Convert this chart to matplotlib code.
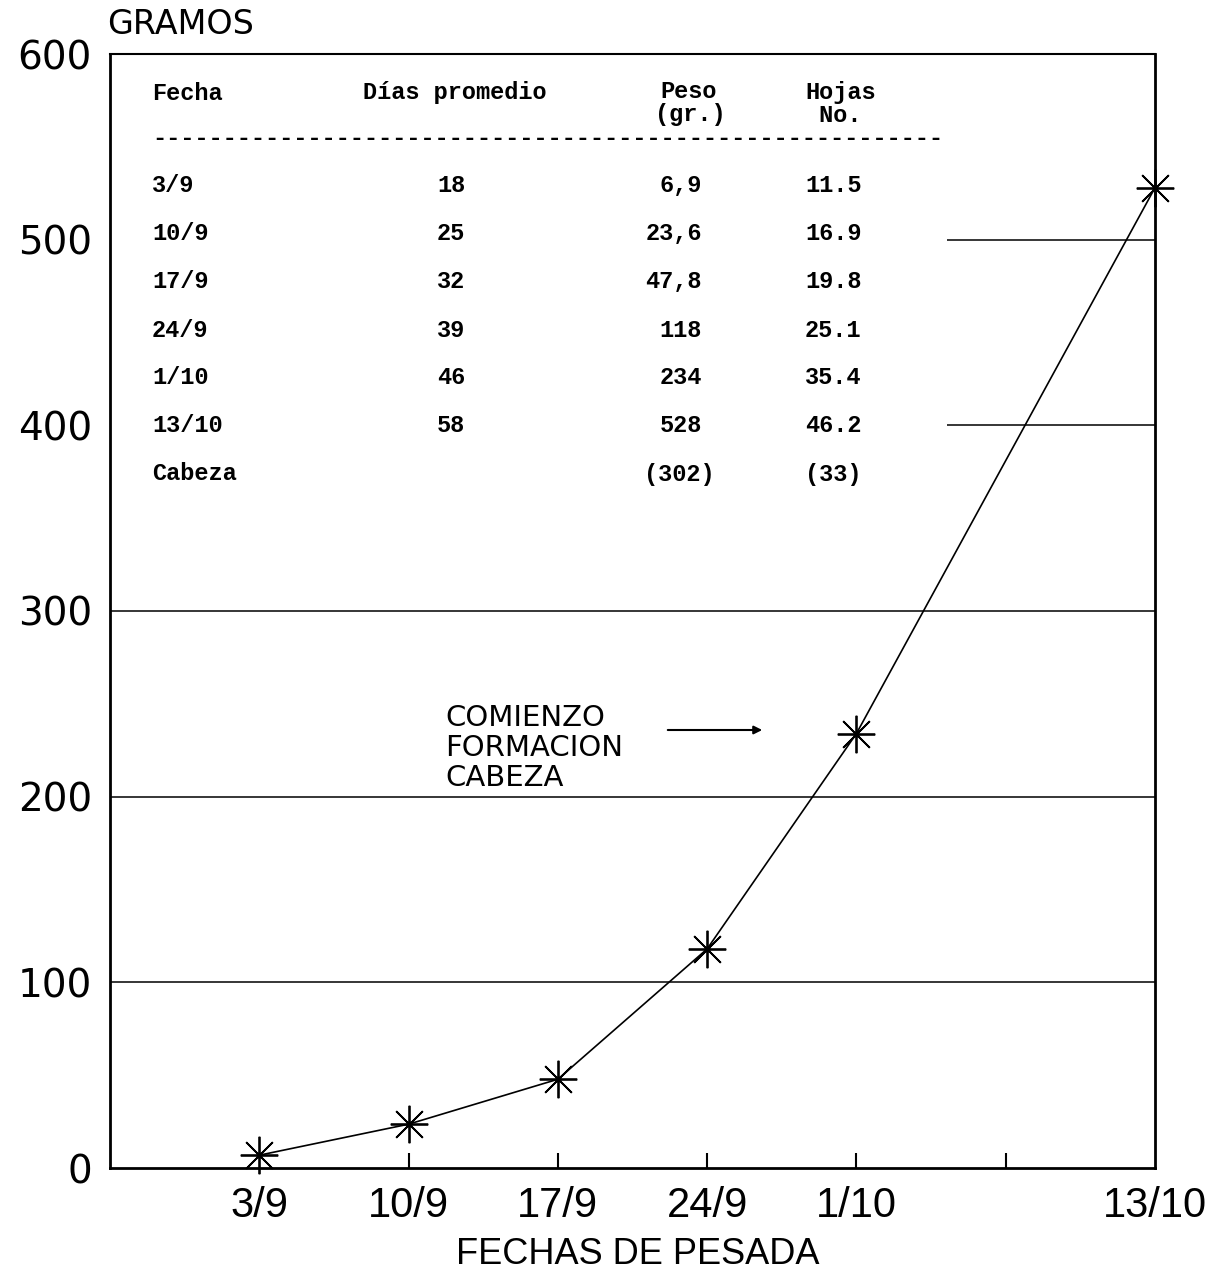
import matplotlib
matplotlib.use("Agg")
import matplotlib.pyplot as plt

# data
fechas = ["3/9", "10/9", "17/9", "24/9", "1/10", "13/10"]
semana = [0, 1, 2, 3, 4, 6]          # weekly slots on the x axis
peso = [6.9, 23.6, 47.8, 118, 234, 528]
dias = [18, 25, 32, 39, 46, 58]
hojas = [11.5, 16.9, 19.8, 25.1, 35.4, 46.2]
cabeza_peso = 302
cabeza_hojas = 33
y_ticks = [0, 100, 200, 300, 400, 500, 600]
x_ticks = [0, 1, 2, 3, 4, 5, 6]
x_labels = ["3/9", "10/9", "17/9", "24/9", "1/10", "", "13/10"]

W, H = 1223, 1281
fig = plt.figure(figsize=(W / 100, H / 100), dpi=100)
ax = fig.add_axes([110 / W, 1 - 1168 / H, (1155 - 110) / W, (1168 - 54) / H])


def px(x, y):
    return x / W, 1 - y / H


# grid lines: full width up to 300, only right of the table above that
for v in y_ticks[1:4]:
    ax.axhline(v, color="black", lw=1.1, zorder=1)
for v in y_ticks[4:6]:
    ax.hlines(v, 4.61, 6, color="black", lw=1.1, zorder=1)

ax.plot(semana, peso, color="black", lw=1.2, marker=(8, 2, 0),
        ms=27, mew=1.3, mec="black", zorder=3, clip_on=False)

ax.set_xlim(-1, 6)
ax.set_ylim(0, 600)
ax.set_xticks(x_ticks)
ax.set_xticklabels(x_labels, fontsize=30, family="Liberation Sans")
ax.tick_params(axis="x", direction="in", length=11, width=1.5, pad=13)
xt = ax.xaxis.get_major_ticks()
xt[0].tick1line.set_visible(False)
xt[-1].tick1line.set_visible(False)
ax.set_yticks(y_ticks)
ax.set_yticklabels([str(v) for v in y_ticks], fontsize=28, family="DejaVu Sans")
ax.tick_params(axis="y", length=0, pad=13)
for s in ax.spines.values():
    s.set_linewidth(2)
ax.spines["top"].set_linewidth(1.5)

# axis titles
fig.text(*px(107, 25), "GRAMOS", fontsize=24,
         family="DejaVu Sans", ha="left", va="center")
fig.text(*px(638, 1255), "FECHAS DE PESADA", fontsize=26,
         family="Liberation Sans", ha="center", va="center")

# typed table inside the plot
mono = dict(family="Liberation Mono", weight="bold", fontsize=17, va="center", ha="left")
mono_r = dict(mono, ha="right")
fig.text(*px(152, 93), "Fecha", **mono)
fig.text(*px(363, 93), "Días promedio", **mono)
fig.text(*px(660, 92), "Peso", **mono)
fig.text(*px(655, 115), "(gr.)", **mono)
fig.text(*px(805, 92), "Hojas", **mono)
fig.text(*px(805, 115), " No.", **mono)
fig.text(*px(152, 138), "-" * 56, **mono)

for i, (f, d, p, h) in enumerate(zip(fechas, dias, peso, hojas)):
    y = 186 + 48 * i
    p_txt = f"{p:.1f}".replace(".", ",") if p < 100 else f"{p:.0f}"
    fig.text(*px(152, y), f, **mono)
    fig.text(*px(437, y), str(d), **mono)
    fig.text(*px(702, y), p_txt, **mono_r)
    fig.text(*px(805, y), f"{h:.1f}", **mono)
y = 186 + 48 * len(fechas)
fig.text(*px(152, y), "Cabeza", **mono)
fig.text(*px(715, y), f"({cabeza_peso})", **mono_r)
fig.text(*px(805, y), f"({cabeza_hojas})", **mono)

# head formation note
for j, line in enumerate(["COMIENZO", "FORMACION", "CABEZA"]):
    fig.text(*px(445, 718 + 30 * j), line, fontsize=21, family="DejaVu Sans",
             ha="left", va="center")
ax.annotate("", xy=(765, H - 730), xytext=(665, H - 730),
            xycoords="figure pixels", textcoords="figure pixels",
            arrowprops=dict(arrowstyle="-|>", color="black", lw=1.5,
                            mutation_scale=12))

fig.savefig("out.png", dpi=100)
